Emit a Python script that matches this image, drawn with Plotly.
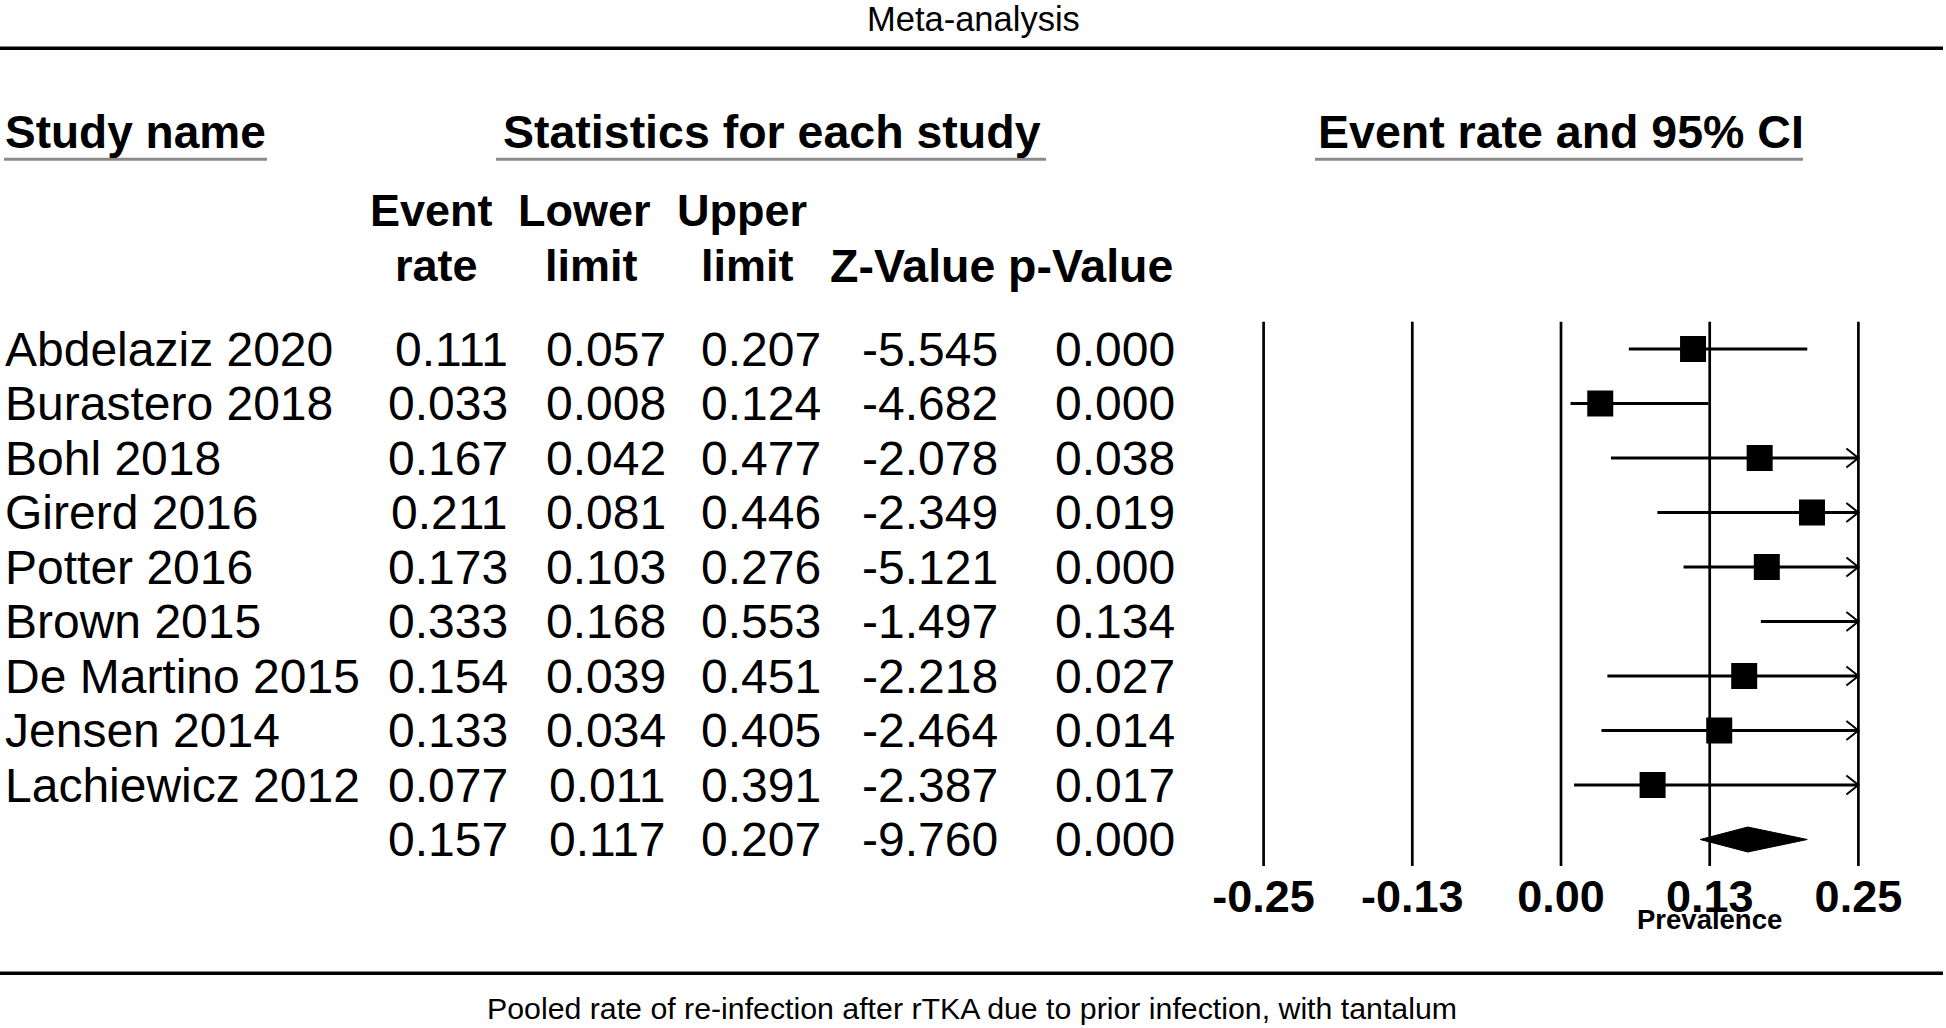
import plotly.graph_objects as go

W, H = 1946, 1028

# ---------------- data ----------------
studies = ["Abdelaziz 2020", "Burastero 2018", "Bohl 2018", "Girerd 2016", "Potter 2016",
           "Brown 2015", "De Martino 2015", "Jensen 2014", "Lachiewicz 2012"]
event_rate = [0.111, 0.033, 0.167, 0.211, 0.173, 0.333, 0.154, 0.133, 0.077]
lower_limit = [0.057, 0.008, 0.042, 0.081, 0.103, 0.168, 0.039, 0.034, 0.011]
upper_limit = [0.207, 0.124, 0.477, 0.446, 0.276, 0.553, 0.451, 0.405, 0.391]
z_value = [-5.545, -4.682, -2.078, -2.349, -5.121, -1.497, -2.218, -2.464, -2.387]
p_value = [0.000, 0.000, 0.038, 0.019, 0.000, 0.134, 0.027, 0.014, 0.017]

pooled_rate = 0.157
pooled_lower = 0.117
pooled_upper = 0.207
pooled_z = -9.760
pooled_p = 0.000

tick_vals = [-0.25, -0.125, 0.0, 0.125, 0.25]
tick_text = ["-0.25", "-0.13", "0.00", "0.13", "0.25"]
axis_min, axis_max = -0.25, 0.25

col_headers_top = ["Event", "Lower", "Upper", "", ""]
col_headers_bottom = ["rate", "limit", "limit", "Z-Value", "p-Value"]

title_text = "Meta-analysis"
caption_text = "Pooled rate of re-infection after rTKA due to prior infection, with tantalum"
axis_title = "Prevalence"

# ---------------- layout calibration (pixels) ----------------
FONT = "Arial, 'Liberation Sans', sans-serif"
X0_PX = 1561.0       # pixel position of value 0
X_SCALE = 1189.6     # pixels per unit
ROW0_PX = 349.0      # pixel position of first row
ROW_STEP = 54.5      # pixels per row
PLOT_BOTTOM = 866.0


def px(x):
    return x / W


def py(y):
    return 1 - y / H


x_range = [(0 - X0_PX) / X_SCALE, (W - X0_PX) / X_SCALE]
y_range = [(PLOT_BOTTOM - ROW0_PX) / ROW_STEP, (0 - ROW0_PX) / ROW_STEP]
n = len(studies)

fig = go.Figure()

# CI lines (clipped to axis)
ci_x, ci_y = [], []
for i, (lo, up) in enumerate(zip(lower_limit, upper_limit)):
    ci_x += [max(lo, axis_min), min(up, axis_max), None]
    ci_y += [i, i, None]
fig.add_trace(go.Scatter(x=ci_x, y=ci_y, mode="lines",
                         line=dict(color="black", width=3), hoverinfo="skip"))

# open arrow heads where CI exceeds axis
ah_dx = 12 / X_SCALE
ah_dy = 9.5 / ROW_STEP
ar_x, ar_y = [], []
for i, up in enumerate(upper_limit):
    if up > axis_max:
        ar_x += [axis_max - ah_dx, axis_max, axis_max - ah_dx, None]
        ar_y += [i - ah_dy, i, i + ah_dy, None]
fig.add_trace(go.Scatter(x=ar_x, y=ar_y, mode="lines",
                         line=dict(color="black", width=2), hoverinfo="skip"))

# squares for point estimates within axis
sq_x = [r for r in event_rate if axis_min <= r <= axis_max]
sq_y = [i for i, r in enumerate(event_rate) if axis_min <= r <= axis_max]
fig.add_trace(go.Scatter(x=sq_x, y=sq_y, mode="markers",
                         marker=dict(symbol="square", size=26, color="black",
                                     line=dict(width=0)),
                         hoverinfo="skip"))

# pooled diamond
d_h = 12.5 / ROW_STEP
fig.add_trace(go.Scatter(
    x=[pooled_lower, pooled_rate, pooled_upper, pooled_rate, pooled_lower],
    y=[n, n - d_h, n, n + d_h, n],
    mode="lines", fill="toself", fillcolor="black",
    line=dict(color="black", width=1), hoverinfo="skip"))

shapes = []
# vertical reference lines
for v in tick_vals:
    shapes.append(dict(type="line", xref="x", yref="y", x0=v, x1=v,
                       y0=-0.5, y1=n + 0.5, line=dict(color="black", width=2.7)))
# top and bottom rules
for yy in [48.3, 973.3]:
    shapes.append(dict(type="line", xref="paper", yref="paper", x0=0, x1=px(1943),
                       y0=py(yy), y1=py(yy), line=dict(color="black", width=3.5)))
# header underlines
for (a, b) in [(4, 267), (496, 1046), (1315, 1803)]:
    shapes.append(dict(type="line", xref="paper", yref="paper", x0=px(a), x1=px(b),
                       y0=py(159.3), y1=py(159.3), line=dict(color="#8a8a8a", width=3)))

annotations = []


def add_text(text, x, y, size, bold=False, xanchor="center", xref="paper", yref="paper"):
    annotations.append(dict(
        text=text, x=x, y=y, xref=xref, yref=yref, xanchor=xanchor, yanchor="middle",
        showarrow=False, font=dict(family=FONT, size=size, color="black",
                                   weight="bold" if bold else "normal")))


add_text(title_text, px(973), py(18.5), 34.5)
add_text(caption_text, px(972), py(1008.5), 30.3)

add_text("Study name", px(3), py(131.6), 46, bold=True, xanchor="left")
add_text("Statistics for each study", px(772), py(131.6), 46.5, bold=True)
add_text("Event rate and 95% CI", px(1560.5), py(131.6), 46.5, bold=True)

top_hdr_x = [431.7, 584, 741.7, 912, 1090]
bot_hdr_x = [436.5, 591.5, 747, 912, 1090]
bot_hdr_size = [45, 45, 45, 46.5, 46.5]
for t, xx in zip(col_headers_top, top_hdr_x):
    if t:
        add_text(t, px(xx), py(210.6), 45, bold=True)
for t, xx, s in zip(col_headers_bottom, bot_hdr_x, bot_hdr_size):
    add_text(t, px(xx), py(265.6), s, bold=True)

col_right = [510, 668, 823, 1000, 1177]
for i, name in enumerate(studies):
    add_text(name, px(3), i, 48, xanchor="left", yref="y")
    vals = [event_rate[i], lower_limit[i], upper_limit[i], z_value[i], p_value[i]]
    for v, xr in zip(vals, col_right):
        add_text(f"{v:.3f}", px(xr), i, 48, xanchor="right", yref="y")
for v, xr in zip([pooled_rate, pooled_lower, pooled_upper, pooled_z, pooled_p], col_right):
    add_text(f"{v:.3f}", px(xr), n, 48, xanchor="right", yref="y")

add_text(axis_title, 0.125, py(919), 27.5, bold=True, xref="x")

fig.update_layout(
    width=W, height=H, margin=dict(l=0, r=0, t=0, b=0),
    paper_bgcolor="white", plot_bgcolor="white", showlegend=False,
    shapes=shapes, annotations=annotations,
    xaxis=dict(range=x_range, domain=[0, 1], tickvals=tick_vals, ticktext=tick_text,
               tickfont=dict(family=FONT, size=45, color="black", weight="bold"),
               showgrid=False, zeroline=False, showline=False, ticks="",
               fixedrange=True),
    yaxis=dict(range=y_range, domain=[1 - PLOT_BOTTOM / H, 1], visible=False,
               fixedrange=True),
)

fig.write_html(
    "out.html",
    config={"displayModeBar": False},
    post_script="document.body.style.margin='0';document.body.style.overflow='hidden';",
)
